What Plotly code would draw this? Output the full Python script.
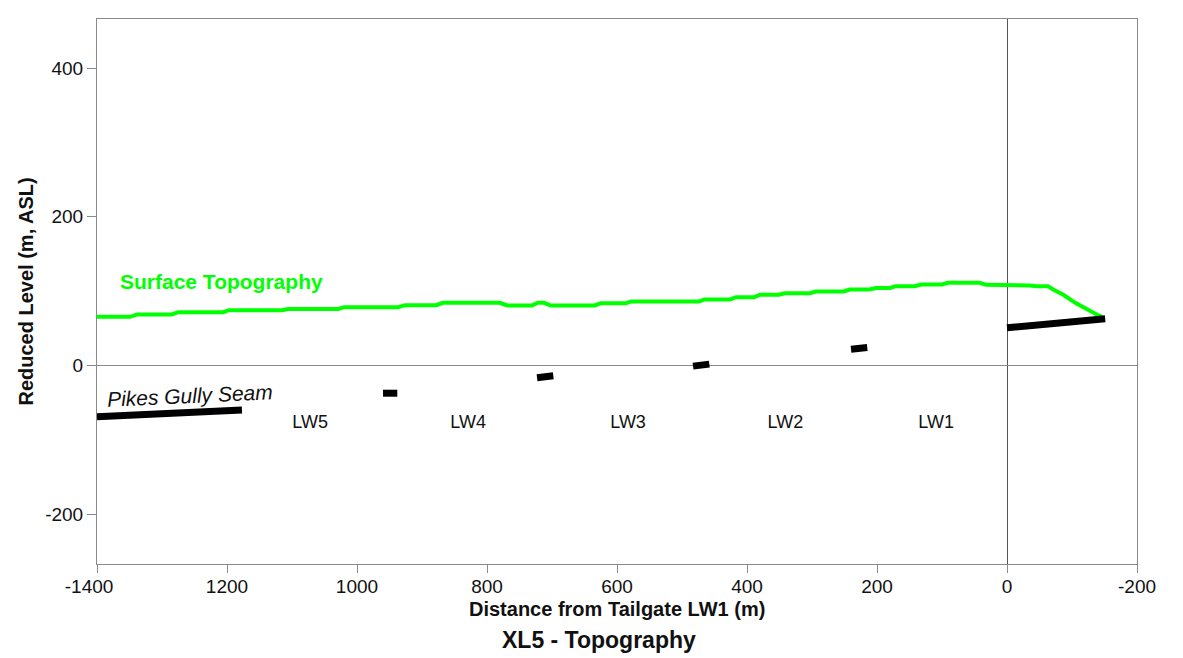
import plotly.graph_objects as go

# Surface topography profile along XL5 (distance from tailgate LW1, reduced level m ASL)
topo_x = [1400, 1349, 1338, 1285, 1275, 1206, 1197, 1115, 1106, 1029, 1020, 937, 926,
          878, 868, 780, 769, 731, 722, 712, 702, 634, 625, 586, 578, 474, 465, 426,
          417, 389, 380, 351, 342, 303, 294, 251, 242, 211, 202, 180, 171, 142, 132,
          100, 91, 42, 32, 5, -5, -35, -45, -63, -71, -86, -105, -123, -138, -146]
topo_y = [65.5, 65.5, 68.6, 68.6, 71.7, 71.7, 74.4, 74.4, 76.0, 76.0, 78.4, 78.4, 81.1,
          81.1, 84.3, 84.3, 80.7, 80.7, 84.3, 84.3, 80.7, 80.7, 83.8, 83.8, 86.1, 86.1,
          88.8, 88.8, 91.9, 91.9, 95.1, 95.1, 97.2, 97.2, 99.5, 99.5, 102.2, 102.2,
          104.2, 104.2, 106.7, 106.7, 108.9, 108.9, 111.2, 111.2, 108.5, 108.5, 107.6,
          107.6, 106.7, 106.7, 102.2, 95.5, 84.3, 75.3, 68.6, 65.5]

# Pikes Gully Seam segments (None separates segments)
seam_x = [1400, 1177, None, 960, 938, None, 723, 698, None, 483, 458, None,
          240, 215, None, 0, -151]
seam_y = [-69.0, -60.0, None, -37.3, -37.3, None, -16.6, -13.9, None, -0.9, 1.8, None,
          21.9, 24.2, None, 50.7, 62.8]

# Longwall panel labels
panel_names = ["LW5", "LW4", "LW3", "LW2", "LW1"]
panel_x = [1072, 829, 583, 341, 109]
panel_y = [-78, -78, -78, -78, -78]

x_tickvals = [1400, 1200, 1000, 800, 600, 400, 200, 0, -200]
x_ticktext = ["-1400\u00a0\u00a0\u00a0", "1200", "1000", "800", "600", "400", "200", "0", "-200"]
y_tickvals = [-200, 0, 200, 400]
y_ticktext = ["-200", "0", "200", "400"]

FONT = "Liberation Sans, Arial, sans-serif"
GREEN = "#00ff00"
AXIS_GRAY = "#8a8a8a"
TEXT = "#111111"

fig = go.Figure()

fig.add_trace(go.Scatter(
    x=topo_x, y=topo_y, mode="lines",
    line=dict(color=GREEN, width=4), showlegend=False, hoverinfo="skip"))

fig.add_trace(go.Scatter(
    x=seam_x, y=seam_y, mode="lines", connectgaps=False,
    line=dict(color="black", width=7), showlegend=False, hoverinfo="skip"))

fig.add_trace(go.Scatter(
    x=panel_x, y=panel_y, mode="text", text=panel_names,
    textfont=dict(family=FONT, size=18, color=TEXT),
    showlegend=False, hoverinfo="skip"))

annotations = [
    dict(x=1208, y=113, xref="x", yref="y", text="<b>Surface Topography</b>",
         showarrow=False, font=dict(family=FONT, size=21, color=GREEN),
         xanchor="center", yanchor="middle"),
    dict(x=1257, y=-41, xref="x", yref="y", text="<i>Pikes Gully Seam</i>",
         showarrow=False, textangle=-2.6,
         font=dict(family=FONT, size=21, color=TEXT),
         xanchor="center", yanchor="middle"),
    dict(x=0.5, y=-0.083, xref="paper", yref="paper",
         text="<b>Distance from Tailgate LW1 (m)</b>", showarrow=False,
         font=dict(family=FONT, size=20, color=TEXT),
         xanchor="center", yanchor="middle"),
    dict(x=(599 - 97) / 1040, y=-0.139, xref="paper", yref="paper",
         text="<b>XL5 - Topography</b>", showarrow=False,
         font=dict(family=FONT, size=23, color=TEXT),
         xanchor="center", yanchor="middle"),
    dict(x=-0.0692, y=0.5, xref="paper", yref="paper",
         text="<b>Reduced Level (m, ASL)</b>", showarrow=False, textangle=-90,
         font=dict(family=FONT, size=20, color=TEXT),
         xanchor="center", yanchor="middle"),
]

fig.update_layout(
    width=1183, height=658,
    margin=dict(l=97, r=46, t=19, b=94),
    paper_bgcolor="white", plot_bgcolor="white",
    font=dict(family=FONT, size=19, color=TEXT),
    annotations=annotations,
    xaxis=dict(
        range=[1400, -200], tickvals=x_tickvals, ticktext=x_ticktext,
        showgrid=False, showline=True, mirror=True, linecolor=AXIS_GRAY, linewidth=1,
        ticks="outside", ticklen=8, tickcolor=AXIS_GRAY, ticklabelstandoff=-3,
        zeroline=True, zerolinecolor="#555555", zerolinewidth=1,
        tickfont=dict(family=FONT, size=19, color=TEXT)),
    yaxis=dict(
        range=[-267, 466], tickvals=y_tickvals, ticktext=y_ticktext,
        showgrid=False, showline=True, mirror=True, linecolor=AXIS_GRAY, linewidth=1,
        ticks="outside", ticklen=9, tickcolor=AXIS_GRAY,
        zeroline=True, zerolinecolor=AXIS_GRAY, zerolinewidth=1,
        tickfont=dict(family=FONT, size=19, color=TEXT)),
)

fig.write_html("out.html")
